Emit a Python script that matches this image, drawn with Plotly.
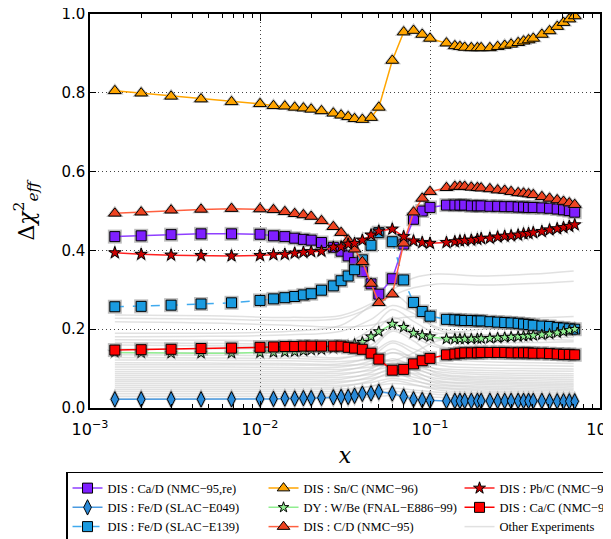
import plotly.graph_objects as go

X = [0.0014, 0.002, 0.003, 0.0045, 0.0068,
     0.01, 0.012, 0.014, 0.016, 0.018, 0.02,
     0.023, 0.027, 0.03, 0.033, 0.036, 0.04, 0.045, 0.05,
     0.06, 0.07, 0.08, 0.09, 0.1,
     0.125, 0.14, 0.15, 0.16, 0.175, 0.19, 0.2,
     0.225, 0.25, 0.275, 0.3, 0.33, 0.355, 0.38, 0.405,
     0.455, 0.505, 0.56, 0.61, 0.66, 0.71]

ca_d = [.435, .437, .440, .442, .442, .441, .437, .435, .431, .428, .426,
        .420, .408, .398, .386, .369, .346, .315, .289,
        .328, .416, .479, .500, .509,
        .515, .515, .515, .515, .513, .513, .513,
        .512, .512, .511, .511, .510, .510, .509, .509,
        .508, .507, .505, .503, .501, .497]
fe_d_e049 = [.022, .022, .022, .022, .022, .023, .023, .024, .024, .025, .025,
             .026, .027, .028, .028, .031, .036, .037, .041,
             .037, .029, .022, .020, .019,
             .018, .018, .018, .018, .018, .018, .018,
             .018, .018, .018, .018, .018, .018, .018, .018,
             .018, .017, .017, .017, .017, .017]
fe_d_e139 = [.257, .258, .261, .264, .267, .273, .277, .280, .283, .287, .290,
             .299, .310, .323, .335, .351, .376, .413, .445,
             .422, .325, .268, .245, .233,
             .225, .224, .223, .222, .222, .221, .221,
             .219, .218, .217, .216, .215, .213, .212, .210,
             .208, .207, .204, .203, .201, .200]
sn_c = [.805, .799, .791, .784, .777, .772, .767, .766, .763, .761, .758,
        .754, .748, .743, .739, .734, .732, .737, .763,
        .882, .954, .958, .948, .938,
        .926, .919, .917, .915, .914, .914, .914,
        .914, .917, .920, .923, .927, .931, .934, .938,
        .948, .957, .968, .978, .987, .995]
w_be = [.141, .140, .139, .139, .139, .140, .141, .142, .143, .145, .147,
        .148, .151, .156, .157, .162, .167, .181, .194,
        .213, .205, .190, .184, .181,
        .175, .175, .175, .175, .175, .176, .176,
        .177, .178, .179, .180, .181, .182, .183, .184,
        .186, .188, .191, .194, .197, .200]
c_d = [.494, .497, .502, .504, .506, .505, .503, .498, .493, .490, .486,
       .475, .460, .445, .426, .403, .371, .316, .267,
       .289, .418, .497, .532, .549,
       .559, .562, .562, .562, .560, .559, .558,
       .556, .553, .552, .549, .546, .545, .543, .541,
       .536, .532, .528, .524, .520, .516]
pb_c = [.394, .390, .388, .387, .386, .387, .389, .390, .393, .395, .397,
        .398, .408, .409, .416, .418, .426, .439, .449,
        .454, .435, .424, .420, .418,
        .420, .422, .424, .425, .426, .428, .430,
        .431, .434, .436, .437, .439, .442, .443, .445,
        .448, .452, .455, .458, .461, .465]
ca_c = [.147, .148, .149, .151, .152, .154, .155, .156, .156, .157, .157,
        .157, .157, .157, .154, .152, .149, .139, .124,
        .096, .098, .112, .120, .126,
        .135, .137, .139, .140, .140, .140, .141,
        .141, .141, .141, .140, .140, .140, .140, .139,
        .139, .138, .137, .136, .136, .135]

# "Other experiments" (grey background curves), sampled at sparse x knots
X_OTHER = [0.0014, 0.005, 0.015, 0.03, 0.045, 0.06, 0.08, 0.11, 0.2, 0.4, 0.7]
other = [
    [0.236, 0.234, 0.230, 0.235, 0.265, 0.300, 0.330, 0.340, 0.335, 0.340, 0.348],
    [0.228, 0.226, 0.222, 0.228, 0.255, 0.285, 0.305, 0.315, 0.312, 0.316, 0.322],
    [0.219, 0.216, 0.210, 0.205, 0.210, 0.225, 0.232, 0.230, 0.226, 0.228, 0.232],
    [0.190, 0.190, 0.195, 0.210, 0.260, 0.290, 0.250, 0.200, 0.180, 0.175, 0.172],
    [0.181, 0.182, 0.186, 0.195, 0.225, 0.260, 0.240, 0.205, 0.185, 0.180, 0.179],
    [0.173, 0.172, 0.170, 0.168, 0.180, 0.210, 0.195, 0.175, 0.168, 0.166, 0.168],
    [0.166, 0.164, 0.160, 0.150, 0.160, 0.200, 0.180, 0.155, 0.150, 0.148, 0.150],
    [0.160, 0.158, 0.155, 0.145, 0.130, 0.120, 0.140, 0.170, 0.185, 0.190, 0.195],
    [0.150, 0.150, 0.152, 0.160, 0.200, 0.250, 0.220, 0.190, 0.200, 0.200, 0.205],
    [0.140, 0.140, 0.142, 0.150, 0.185, 0.230, 0.200, 0.160, 0.140, 0.135, 0.130],
    [0.135, 0.134, 0.132, 0.128, 0.140, 0.170, 0.150, 0.130, 0.125, 0.122, 0.122],
    [0.128, 0.127, 0.126, 0.125, 0.150, 0.195, 0.170, 0.130, 0.118, 0.115, 0.113],
    [0.122, 0.121, 0.120, 0.118, 0.125, 0.140, 0.130, 0.115, 0.110, 0.108, 0.106],
    [0.115, 0.114, 0.113, 0.112, 0.130, 0.165, 0.140, 0.110, 0.102, 0.100, 0.099],
    [0.110, 0.110, 0.109, 0.108, 0.112, 0.120, 0.112, 0.100, 0.096, 0.094, 0.093],
    [0.104, 0.104, 0.103, 0.104, 0.120, 0.150, 0.125, 0.098, 0.090, 0.088, 0.087],
    [0.098, 0.098, 0.098, 0.098, 0.104, 0.112, 0.105, 0.092, 0.085, 0.083, 0.082],
    [0.092, 0.092, 0.092, 0.094, 0.112, 0.140, 0.118, 0.088, 0.080, 0.078, 0.077],
    [0.087, 0.087, 0.087, 0.088, 0.095, 0.105, 0.098, 0.084, 0.076, 0.074, 0.072],
    [0.082, 0.082, 0.082, 0.084, 0.100, 0.125, 0.105, 0.080, 0.072, 0.069, 0.067],
    [0.077, 0.077, 0.077, 0.078, 0.085, 0.095, 0.088, 0.075, 0.068, 0.065, 0.063],
    [0.072, 0.072, 0.072, 0.073, 0.090, 0.115, 0.095, 0.070, 0.064, 0.061, 0.059],
    [0.067, 0.067, 0.067, 0.068, 0.075, 0.085, 0.078, 0.066, 0.060, 0.057, 0.055],
    [0.062, 0.062, 0.062, 0.064, 0.080, 0.100, 0.085, 0.062, 0.056, 0.053, 0.051],
    [0.057, 0.057, 0.057, 0.058, 0.065, 0.075, 0.068, 0.058, 0.052, 0.049, 0.047],
    [0.052, 0.052, 0.052, 0.054, 0.070, 0.090, 0.072, 0.054, 0.048, 0.045, 0.043],
    [0.047, 0.047, 0.047, 0.048, 0.055, 0.062, 0.058, 0.050, 0.044, 0.041, 0.039],
    [0.042, 0.042, 0.042, 0.043, 0.055, 0.070, 0.060, 0.046, 0.040, 0.037, 0.035],
    [0.036, 0.036, 0.036, 0.037, 0.042, 0.050, 0.046, 0.040, 0.036, 0.033, 0.031],
    [0.030, 0.030, 0.030, 0.031, 0.036, 0.042, 0.040, 0.034, 0.031, 0.029, 0.028],
    [0.024, 0.024, 0.024, 0.025, 0.028, 0.032, 0.030, 0.027, 0.025, 0.024, 0.023],
]

X_TICKS = [0.001, 0.01, 0.1, 1]
X_TICKTEXT = ["10<sup>−3</sup>", "10<sup>−2</sup>", "10<sup>−1</sup>", "10<sup>0</sup>"]
X_MINOR = [m * 10 ** e for e in (-3, -2, -1) for m in range(2, 10)]

fig = go.Figure()

for i, ys in enumerate(other):
    fig.add_trace(go.Scatter(
        x=X_OTHER, y=ys, mode="lines", line=dict(color="rgba(200,200,200,0.55)", width=1.5, shape="spline"),
        name="Other Experiments", showlegend=(i == 0), legendrank=9, hoverinfo="skip"))

series = [
    # name, values, marker color, line color, symbol, size, dash, rank
    ("DIS : Ca/D (NMC−95,re)", ca_d, "#7f1fff", "#8f3fff", "square", 10, "solid", 1),
    ("DIS : Fe/D (SLAC−E049)", fe_d_e049, "#2a8ad8", "#4a9ae0", "diamond-tall", 11, "solid", 4),
    ("DIS : Fe/D (SLAC−E139)", fe_d_e139, "#1a9be0", "#40aaee", "square", 10, "dash", 7),
    ("DIS : Sn/C (NMC−96)", sn_c, "#ffa500", "#ffa500", "triangle-up", 11, "solid", 2),
    ("DY : W/Be (FNAL−E886−99)", w_be, "#90ee90", "#90ee90", "star", 8, "solid", 5),
    ("DIS : C/D (NMC−95)", c_d, "#ee4422", "#ff6040", "triangle-up", 11, "solid", 8),
    ("DIS : Pb/C (NMC−96)", pb_c, "#cc0000", "#ff2020", "star", 9, "solid", 3),
    ("DIS : Ca/C (NMC−96)", ca_c, "#ff0000", "#ff0000", "square", 10, "solid", 6),
]

for name, ys, mc, lc, sym, sz, dash, rank in series:
    fig.add_trace(go.Scatter(
        x=X, y=ys, mode="markers", showlegend=False, hoverinfo="skip",
        marker=dict(symbol=sym, size=sz + 4, color="rgba(110,110,110,0.45)", line=dict(width=0))))
    fig.add_trace(go.Scatter(
        x=X, y=ys, mode="lines+markers", name=name, legendrank=rank,
        line=dict(color=lc, width=1.5, dash=dash),
        marker=dict(symbol=sym, size=sz, color=mc, line=dict(color="black", width=1))))

axis_common = dict(
    showline=True, linecolor="black", linewidth=1.5, mirror="allticks",
    ticks="inside", tickcolor="black", tickwidth=1,
    showgrid=True, gridcolor="#444444", griddash="1px,3px", gridwidth=1,
    zeroline=False, ticklabeloverflow="allow",
)

fig.update_xaxes(
    type="log", range=[-3, 0], tickvals=X_TICKS, ticktext=X_TICKTEXT, ticklen=7,
    ticklabelstandoff=6,
    tickfont=dict(family="DejaVu Sans", size=16, color="black"),
    minor=dict(tickvals=X_MINOR, ticks="inside", ticklen=4, tickcolor="black", showgrid=False),
    title=dict(text="<i>x</i>", font=dict(family="DejaVu Serif", size=22, color="black"), standoff=10),
    **axis_common)
fig.update_yaxes(
    range=[0, 1], tickvals=[0, 0.2, 0.4, 0.6, 0.8, 1.0], tickformat=".1f", ticklen=6,
    tickfont=dict(family="DejaVu Sans", size=15, color="black"),
    title=dict(text="Δ<i>χ</i><sup>2</sup><sub><i>eff</i></sub>",
               font=dict(family="DejaVu Serif", size=22, color="black"), standoff=21),
    **axis_common)

# the page body has an 8px margin: the figure is sized so that it ends at the window edge
fig.update_layout(
    width=603, height=531,
    margin=dict(l=82, r=11, t=6, b=131, autoexpand=False),
    plot_bgcolor="white", paper_bgcolor="white",
    legend=dict(
        orientation="h", x=-0.047, xanchor="left", y=-0.1624, yanchor="top",
        bgcolor="white", bordercolor="black", borderwidth=1.5,
        font=dict(family="Liberation Serif", size=12.5, color="black"),
        entrywidth=151, traceorder="normal", itemwidth=30,
    ),
)

fig.write_html("out.html")
